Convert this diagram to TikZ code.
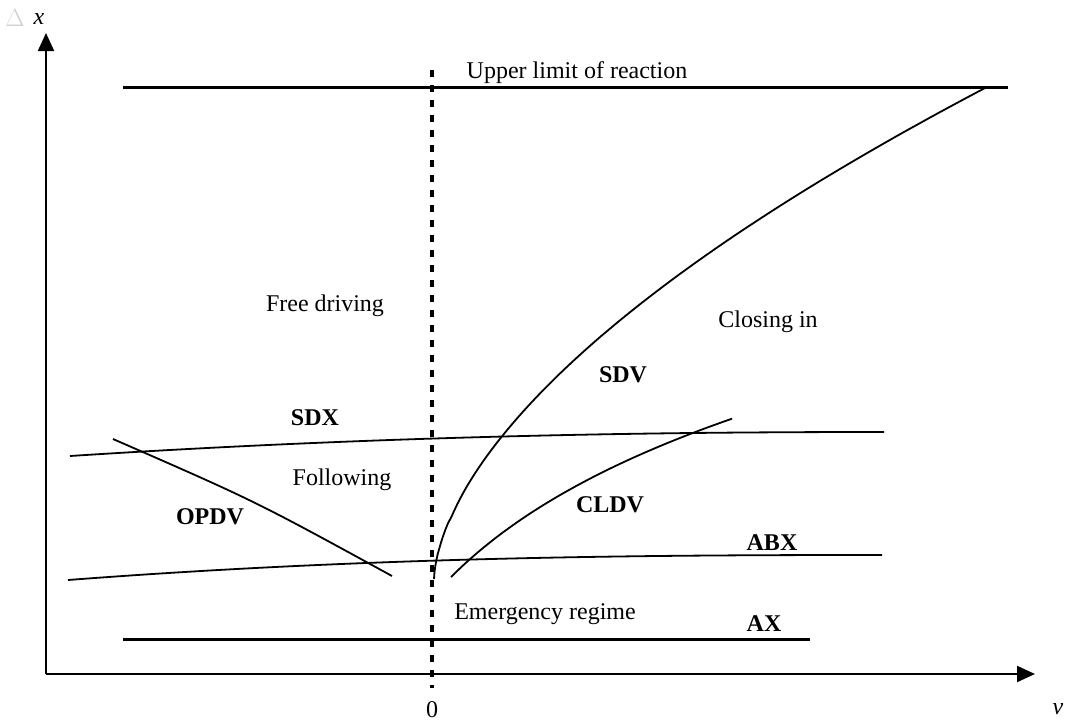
\documentclass[tikz,border=0pt]{standalone}
\usepackage{fontspec}
\setmainfont{Liberation Serif}
\usetikzlibrary{arrows.meta}
\begin{document}
\begin{tikzpicture}[x=1pt,y=-1pt,
  lbl/.style={font=\fontsize{24}{28}\selectfont, inner sep=0pt},
  tag/.style={font=\fontsize{24}{28}\selectfont\bfseries, inner sep=0pt},
  bound/.style={line width=3pt},
  curve/.style={line width=1.8pt},
  axis/.style={line width=2pt, -{Triangle[length=18pt,width=16pt]}},
  zeroline/.style={line width=3.5pt, dash pattern=on 7pt off 8pt}]
\useasboundingbox[fill=white] (0,0) rectangle (1066,723);

% axes
\coordinate (origin) at (46,674);
\coordinate (ytip) at (46,33);
\coordinate (xtip) at (1035,674);
\draw[axis] (origin) -- (ytip);
\draw[axis] (origin) -- (xtip);
\node[lbl] (dlt) at (15,18) {\textcolor{black!18}{$\Delta$}};
\node[lbl] (ylab) at (39,19) {\textit{x}};
\node[lbl] (xlab) at (1058,709) {\textit{v}};
\node[lbl] (zero) at (432,710) {0};

% zero relative speed
\coordinate (ztop) at (432,70);
\coordinate (zbot) at (432,688);
\draw[zeroline] (ztop) -- (zbot);

% reaction limits
\coordinate (ul1) at (123,87);
\coordinate (ul2) at (1008,87);
\draw[bound] (ul1) -- (ul2);
\coordinate (ax1) at (123,639);
\coordinate (ax2) at (810,639);
\draw[bound] (ax1) -- (ax2);

% desired and braking distance thresholds
\draw[curve] plot[domain=70:884, samples=60, variable=\u] ({\u}, {432+24*((884-\u)/814)^2.2});
\draw[curve] plot[domain=68:882, samples=60, variable=\u] ({\u}, {555+25*((882-\u)/814)^2.5});

% perception thresholds
\draw[curve] plot[domain=0.002:1, samples=80, variable=\t] ({434+553*\t^1.7}, {580-493*\t});
\draw[curve] plot[domain=0:281, samples=60, variable=\u] ({451+\u}, {577-150*ln(1+\u/150)});
\coordinate (op1) at (113,439);
\coordinate (op2) at (392,576);
\draw[curve] (op1) .. controls (255,501) .. (op2);

% regimes and labels
\node[lbl] (upper) at (577,73) {Upper limit of reaction};
\node[lbl] (free) at (325,306) {Free driving};
\node[lbl] (closing) at (768,322) {Closing in};
\node[lbl] (follow) at (342,480) {Following};
\node[lbl] (emerg) at (545,614) {Emergency regime};
\node[tag] (sdv) at (623,375) {SDV};
\node[tag] (sdx) at (315,418) {SDX};
\node[tag] (opdv) at (210,517) {OPDV};
\node[tag] (cldv) at (610,505) {CLDV};
\node[tag] (abx) at (772,543) {ABX};
\node[tag] (ax) at (764,624) {AX};
\end{tikzpicture}
\end{document}
